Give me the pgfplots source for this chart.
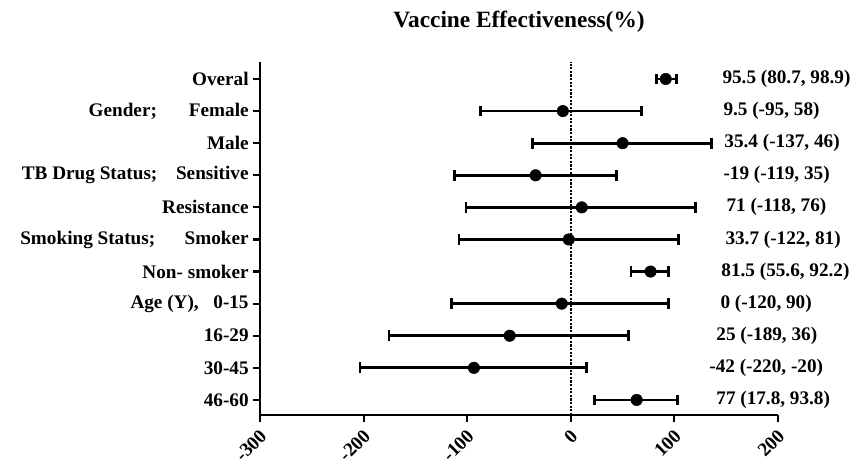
\documentclass[border=0pt]{standalone}
\usepackage{fontspec}
\setmainfont{Liberation Serif}
\usepackage{pgfplots}
\pgfplotsset{compat=1.18}
\usepackage{pgfplotstable}

\newcommand\lbl{\fontsize{14.4}{16}\selectfont\bfseries}

% effectiveness estimate with its interval, as minus/plus errors
\pgfplotstableread{
y  x     em     ep
11 91.6  8.6    10.4
10 -7.7  79.3   76.2
9  50.0  87.0   86.0
8  -34.0 78.0   78.0
7  10.6  111.6  109.9
6  -2.0  106.0  106.0
5  77.0  19.0   17.5
4  -8.7  106.3  103.2
3  -59.0 116.5  115.0
2  -93.5 110.0  108.5
1  63.6  40.6   39.4
}\vedata

\begin{document}
\begin{tikzpicture}
\begin{axis}[
    at={(0,0)}, anchor=south west,
    scale only axis,
    width=388.5pt, height=264.75pt,
    xmin=-300, xmax=200,
    ymin=0.53, ymax=11.53,
    axis x line=bottom, axis y line=left,
    axis line style={-, line width=1.6pt},
    xtick={-300,-200,-100,0,100,200},
    ytick={1,2,3,4,5,6,7,8,9,10,11},
    yticklabels={46-60, 30-45, 16-29,
        {Age (Y),\hspace{11pt}0-15}, Non- smoker,
        {Smoking Status;\hspace{22pt}Smoker}, Resistance,
        {TB Drug Status;\hspace{14pt}Sensitive}, Male,
        {Gender;\hspace{24pt}Female}, Overal},
    tick style={line width=1.6pt, black},
    tick align=outside,
    major tick length=5pt,
    tick label style={font=\lbl},
    /pgf/number format/assume math mode=true,
    xticklabel style={anchor=east, xshift=5pt, yshift=-6pt, rotate=45},
    title={Vaccine Effectiveness(\%)},
    title style={font=\fontsize{17.5}{19}\selectfont\bfseries, at={(0.5,1)}, anchor=center, yshift=24pt},
    clip=false
]
\addplot[black, densely dotted, line width=1.7pt, forget plot] coordinates {(0,0.53) (0,11.53)};
\addplot[only marks, mark=*, mark size=4.3pt, black,
    error bars/.cd, x dir=both, x explicit,
    error bar style={line width=2pt, black},
    error mark options={rotate=90, line width=2pt, mark size=4pt, black}]
    table[x=x, y=y, x error minus=em, x error plus=ep] {\vedata};

\node[anchor=west, font=\lbl] at (axis cs:141.9,11) {95.5 (80.7, 98.9)};
\node[anchor=west, font=\lbl] at (axis cs:142.9,10) {9.5 (-95, 58)};
\node[anchor=west, font=\lbl] at (axis cs:143.8,9) {35.4 (-137, 46)};
\node[anchor=west, font=\lbl] at (axis cs:142.9,8) {-19 (-119, 35)};
\node[anchor=west, font=\lbl] at (axis cs:145.8,7) {71 (-118, 76)};
\node[anchor=west, font=\lbl] at (axis cs:144.8,6) {33.7 (-122, 81)};
\node[anchor=west, font=\lbl] at (axis cs:140.9,5) {81.5 (55.6, 92.2)};
\node[anchor=west, font=\lbl] at (axis cs:140.0,4) {0 (-120, 90)};
\node[anchor=west, font=\lbl] at (axis cs:136.0,3) {25 (-189, 36)};
\node[anchor=west, font=\lbl] at (axis cs:129.3,2) {-42 (-220, -20)};
\node[anchor=west, font=\lbl] at (axis cs:136.0,1) {77 (17.8, 93.8)};
\end{axis}
\pgfresetboundingbox
\path (-195pt,-36.75pt) rectangle (444pt,311.25pt);
\end{tikzpicture}
\end{document}
